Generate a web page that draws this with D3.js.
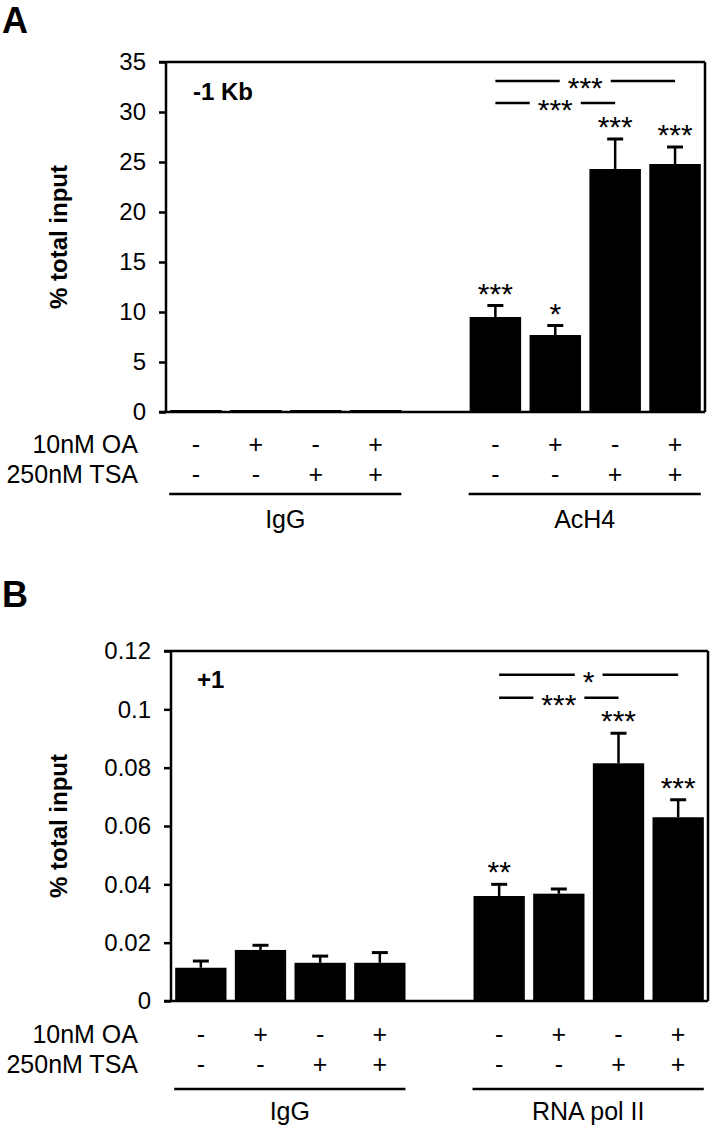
<!DOCTYPE html>
<html><head><meta charset="utf-8">
<script src="https://cdn.jsdelivr.net/npm/d3@7"></script>
<style>
body{margin:0;background:#fff}
svg{display:block}
text{font-family:"Liberation Sans",Arial,Helvetica,sans-serif;fill:#000}
</style>
</head><body>
<svg id="chart" width="712" height="1130"></svg>
<script>
// ---------- data ----------
const slots = ["c1","c2","c3","c4","gap","c5","c6","c7","c8"];
const barSlots = ["c1","c2","c3","c4","c5","c6","c7","c8"];
const oaSigns  = ["-","+","-","+","-","+","-","+"];
const tsaSigns = ["-","-","+","+","-","-","+","+"];
const rowLabels = ["10nM OA","250nM TSA"];
const yTitle = "% total input";

// Panel A
const aTitle = "-1 Kb";
const aGroups = ["IgG","AcH4"];
const aValues = [0.2, 0.2, 0.2, 0.2, 9.5, 7.7, 24.3, 24.8];
const aErrors = [0, 0, 0, 0, 1.15, 0.95, 3.0, 1.7];
const aStars  = ["", "", "", "", "***", "*", "***", "***"];
const aTicks  = [0, 5, 10, 15, 20, 25, 30, 35];
const aTickLabels = ["0","5","10","15","20","25","30","35"];
const aBrackets = [ {from:4, to:7, level:33.1, label:"***"}, {from:4, to:6, level:30.9, label:"***"} ];

// Panel B
const bTitle = "+1";
const bGroups = ["IgG","RNA pol II"];
const bValues = [0.0114, 0.0175, 0.0131, 0.0131, 0.0360, 0.0368, 0.0815, 0.0630];
const bErrors = [0.0023, 0.0016, 0.0023, 0.0035, 0.0040, 0.0016, 0.0103, 0.0060];
const bStars  = ["", "", "", "", "**", "", "***", "***"];
const bTicks  = [0, 0.02, 0.04, 0.06, 0.08, 0.1, 0.12];
const bTickLabels = ["0","0.02","0.04","0.06","0.08","0.1","0.12"];
const bBrackets = [ {from:4, to:7, level:0.1119, label:"*"}, {from:4, to:6, level:0.104, label:"***"} ];

// ---------- drawing ----------
const svg = d3.select("#chart");
const FS = 24, ROW_FS = 25, STAR_FS = 30, STAR_OFF = 17;

function drawPanel(p) {
  const g = svg.append("g");
  const x = d3.scaleBand().domain(slots).range([p.left, p.right]).paddingInner(0.14).paddingOuter(0.07);
  const y = d3.scaleLinear().domain([0, p.ticks[p.ticks.length-1]]).range([p.zero, p.top]);
  const bx = i => x(barSlots[i]);
  const cx = i => x(barSlots[i]) + x.bandwidth()/2;

  // panel letter
  g.append("text").attr("x", 2).attr("y", p.letterY).attr("font-size", 36).attr("font-weight", "bold").text(p.letter);

  // y axis
  const axis = d3.axisLeft(y).tickValues(p.ticks).tickSize(7).tickSizeOuter(0).tickPadding(13)
      .tickFormat((d, i) => p.tickLabels[i]);
  const ag = g.append("g").attr("transform", `translate(${p.left},0)`).call(axis);
  ag.select(".domain").remove();
  ag.selectAll(".tick line").attr("stroke", "#000").attr("stroke-width", 2.5);
  ag.selectAll(".tick text").attr("font-size", FS).attr("font-family", '"Liberation Sans",Arial,sans-serif').attr("fill", "#000");

  // y title
  g.append("text").attr("transform", `translate(67,${(p.top + p.zero)/2}) rotate(-90)`)
    .attr("text-anchor", "middle").attr("font-size", FS).attr("font-weight", "bold").text(yTitle);

  // bars
  g.selectAll("rect.bar").data(p.values).join("rect").attr("class", "bar")
    .attr("x", (d, i) => bx(i)).attr("width", x.bandwidth())
    .attr("y", d => y(d)).attr("height", d => y(0) - y(d)).attr("fill", "#000");

  // error bars
  p.values.forEach((v, i) => {
    if (!p.errors[i]) return;
    const top = y(v + p.errors[i]);
    g.append("line").attr("x1", cx(i)).attr("x2", cx(i)).attr("y1", y(v)).attr("y2", top).attr("stroke", "#000").attr("stroke-width", 2.5);
    g.append("line").attr("x1", cx(i) - 8).attr("x2", cx(i) + 8).attr("y1", top).attr("y2", top).attr("stroke", "#000").attr("stroke-width", 3);
  });

  // stars above bars
  p.values.forEach((v, i) => {
    if (!p.stars[i]) return;
    const capY = y(v + p.errors[i]);
    g.append("text").attr("x", cx(i)).attr("y", capY - 19 + STAR_OFF).attr("text-anchor", "middle")
      .attr("font-size", STAR_FS).text(p.stars[i]);
  });

  // frame
  const frame = g.append("g").attr("stroke", "#000").attr("stroke-width", 2.5).attr("fill", "none");
  frame.append("line").attr("x1", p.left).attr("x2", p.left).attr("y1", p.top).attr("y2", p.zero);
  frame.append("line").attr("x1", p.left - 7).attr("x2", p.right).attr("y1", p.top).attr("y2", p.top);
  frame.append("line").attr("x1", p.right).attr("x2", p.right).attr("y1", p.top).attr("y2", p.zero);
  frame.append("line").attr("x1", p.left - 7).attr("x2", p.right).attr("y1", p.zero).attr("y2", p.zero);

  // significance brackets
  p.brackets.forEach(b => {
    const x1 = cx(b.from), x2 = cx(b.to), ly = y(b.level), mid = (x1 + x2)/2;
    const t = g.append("text").attr("x", mid).attr("y", ly + STAR_OFF).attr("text-anchor", "middle")
      .attr("font-size", STAR_FS).text(b.label);
    const half = t.node().getComputedTextLength()/2 + 8;
    g.append("line").attr("x1", x1).attr("x2", mid - half).attr("y1", ly).attr("y2", ly).attr("stroke", "#000").attr("stroke-width", 2.5);
    g.append("line").attr("x1", mid + half).attr("x2", x2).attr("y1", ly).attr("y2", ly).attr("stroke", "#000").attr("stroke-width", 2.5);
  });

  // panel subtitle
  g.append("text").attr("x", p.left + p.titleDx).attr("y", p.titleY).attr("font-size", FS).attr("font-weight", "bold").text(p.title);

  // treatment rows
  [oaSigns, tsaSigns].forEach((row, r) => {
    const ry = p.zero + p.rowOff[r];
    g.append("text").attr("x", 138).attr("y", ry).attr("text-anchor", "end").attr("font-size", ROW_FS).text(rowLabels[r]);
    row.forEach((s, i) => {
      g.append("text").attr("x", cx(i)).attr("y", ry).attr("text-anchor", "middle").attr("font-size", ROW_FS).text(s);
    });
  });

  // group lines + labels
  p.groups.forEach((name, gi) => {
    const i0 = gi*4, i1 = gi*4 + 3;
    const x1 = bx(i0) - 1, x2 = bx(i1) + x.bandwidth();
    const ly = p.zero + p.lineOff;
    g.append("line").attr("x1", x1).attr("x2", x2).attr("y1", ly).attr("y2", ly).attr("stroke", "#000").attr("stroke-width", 2.5);
    g.append("text").attr("x", (x1 + x2)/2).attr("y", p.zero + p.groupOff).attr("text-anchor", "middle").attr("font-size", ROW_FS).text(name);
  });
}

drawPanel({letter:"A", letterY:33, title:aTitle, titleDx:27, titleY:100,
  left:166, right:705, top:62, zero:412,
  values:aValues, errors:aErrors, stars:aStars, ticks:aTicks, tickLabels:aTickLabels, brackets:aBrackets,
  groups:aGroups, rowOff:[41,71], lineOff:82, groupOff:116});

drawPanel({letter:"B", letterY:607, title:bTitle, titleDx:26, titleY:688,
  left:171, right:708, top:651, zero:1001,
  values:bValues, errors:bErrors, stars:bStars, ticks:bTicks, tickLabels:bTickLabels, brackets:bBrackets,
  groups:bGroups, rowOff:[42,72], lineOff:88, groupOff:119});
</script>
</body></html>
